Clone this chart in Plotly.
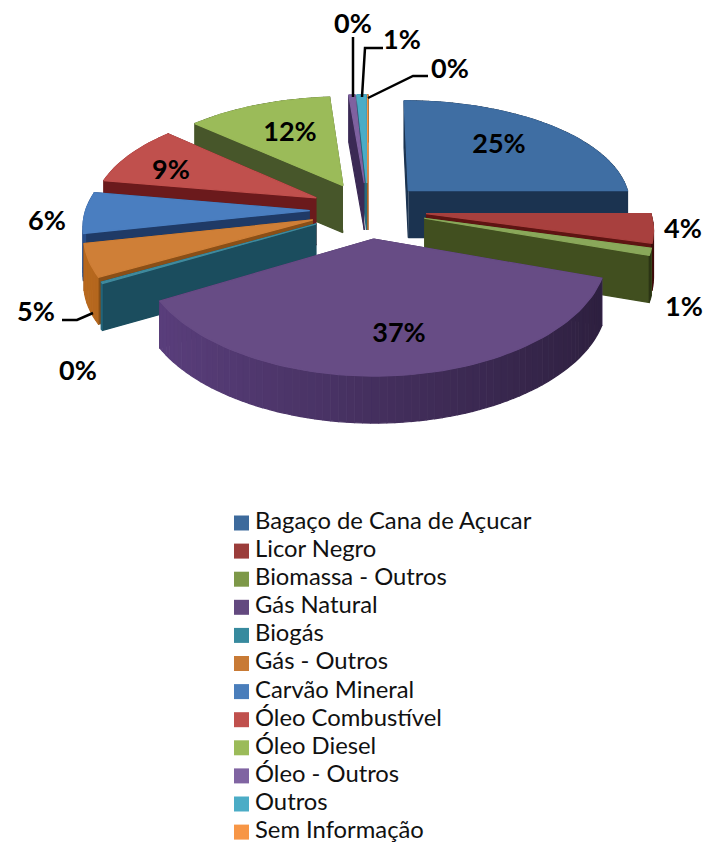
import numpy as np
import plotly.graph_objects as go

# ---- data -----------------------------------------------------------
categories = ["Bagaço de Cana de Açucar", "Licor Negro", "Biomassa - Outros", "Gás Natural",
              "Biogás", "Gás - Outros", "Carvão Mineral", "Óleo Combustível", "Óleo Diesel",
              "Óleo - Outros", "Outros", "Sem Informação"]
shares = [25.0, 4.2, 1.0, 36.6, 0.2, 4.7, 6.0, 9.0, 12.0, 0.5, 0.75, 0.05]
top_colors = ["#3f6ea3", "#a8403e", "#8aa85a", "#674c85", "#3f8a9d", "#cf7f37",
              "#4a7ec0", "#c0504d", "#9bbb59", "#7f62a0", "#4bacc6", "#f79646"]
side_colors = ["#1b3350", "#5e1412", "#414f1f", "#45305f", "#1b4d5e", "#8a4f17",
               "#1f3a66", "#6b1a1c", "#47562a", "#3b2a55", "#246a7d", "#a45a1a"]
legend_colors = ["#3d6a9c", "#9b3d3b", "#7d9848", "#63497f", "#378a9e", "#c87a35",
                 "#4a7ebb", "#c0504d", "#9bbb59", "#8064a2", "#4bacc6", "#f79646"]

# ---- pie projection ---------------------------------------------------
CX, CY, RX, RY = 368.0, 210.0, 224.0, 108.0
PERSP_X, PERSP_Y = 0.12, 0.144
EXPLODE, DEPTH = 0.26, 47.0

# label anchors (pixel space), in slice order plus leader lines
label_pos = [(499, 146), (683, 231), (684, 309), (399, 335), (78, 373), (36, 314),
             (47, 223), (171, 172), (290, 134), (353, 26), (402, 42), (450, 71)]
leaders = [[(353, 37), (353, 97)],
           [(383, 48), (365, 48), (362, 97)],
           [(428, 76), (413, 76), (368, 98)],
           [(62, 320), (77, 320), (93, 313)]]
legend_x, legend_text_x, legend_y0, legend_dy = 241.5, 255.0, 523.0, 28.1


def project(X, Y, drop=0.0):
    X, Y = np.asarray(X, float), np.asarray(Y, float)
    return CX + RX * X / (1 + PERSP_X * Y), CY - RY * Y / (1 + PERSP_Y * Y) + drop


def rgb(h):
    return np.array([int(h[i:i + 2], 16) for i in (1, 3, 5)], float)


def shade(h, f):
    c = np.clip(rgb(h) * f, 0, 255).astype(int)
    return f"rgb({c[0]},{c[1]},{c[2]})"


fig = go.Figure()


def poly(xs, ys, color, name):
    fig.add_trace(go.Scatter(x=list(xs), y=list(ys), mode="lines", fill="toself",
                             fillcolor=color, line=dict(color=color, width=1.2),
                             hoverinfo="skip", showlegend=False, name=name))


def cut_face(t, ex, ey, color, name):
    px, py = project([ex, ex + np.sin(t)], [ey, ey + np.cos(t)])
    poly([px[0], px[1], px[1], px[0]], [py[0], py[1], py[1] + DEPTH, py[0] + DEPTH], color, name)


total = sum(shares)
edges = np.cumsum([0] + shares) / total * 2 * np.pi
slices = []
for i in range(len(shares)):
    t0, t1 = edges[i], edges[i + 1]
    mid = (t0 + t1) / 2
    slices.append((i, t0, t1, EXPLODE * np.sin(mid), EXPLODE * np.cos(mid)))

# painter's order: farthest slice first
for i, t0, t1, ex, ey in sorted(slices, key=lambda s: -s[4]):
    name = categories[i]
    n = max(3, int((t1 - t0) / 0.03))
    th = np.linspace(t0, t1, n)
    px, py = project(ex + np.sin(th), ey + np.cos(th))
    start_visible = np.sin(t0) < 0
    end_visible = np.sin(t1) > 0
    # hidden faces first
    if not start_visible:
        cut_face(t0, ex, ey, side_colors[i], name)
    if not end_visible:
        cut_face(t1, ex, ey, side_colors[i], name)
    wall = [(k, (th[k] + th[k + 1]) / 2) for k in range(n - 1)]
    for vis in (False, True):
        for k, m in wall:
            if (np.cos(m) < 0) == vis:
                f = 1.35 - 0.35 * (np.sin(m) + 1)
                poly([px[k], px[k + 1], px[k + 1], px[k]],
                     [py[k], py[k + 1], py[k + 1] + DEPTH, py[k] + DEPTH],
                     shade(side_colors[i], f), name)
        if not vis:
            if start_visible:
                cut_face(t0, ex, ey, side_colors[i], name)
            if end_visible:
                cut_face(t1, ex, ey, side_colors[i], name)
    # top
    ox, oy = project([ex], [ey])
    poly(np.r_[ox, px, ox], np.r_[oy, py, oy], top_colors[i], name)

# leader lines
for seg in leaders:
    fig.add_trace(go.Scatter(x=[p[0] for p in seg], y=[p[1] for p in seg], mode="lines",
                             line=dict(color="black", width=2.5), hoverinfo="skip",
                             showlegend=False))

# percentage labels
fig.add_trace(go.Scatter(x=[p[0] for p in label_pos], y=[p[1] for p in label_pos], mode="text",
                         text=[f"{round(v / total * 100)}%" for v in shares],
                         textfont=dict(family="Lato", size=27, color="black", weight="bold"),
                         hoverinfo="skip", showlegend=False))

# legend
for i, c in enumerate(categories):
    y = legend_y0 + i * legend_dy
    fig.add_trace(go.Scatter(x=[legend_x], y=[y], mode="markers",
                             marker=dict(symbol="square", size=15, color=legend_colors[i]),
                             hoverinfo="skip", showlegend=False, name=c, cliponaxis=False))
    fig.add_trace(go.Scatter(x=[legend_text_x], y=[y], mode="text",
                             text=[c], textposition="middle right",
                             textfont=dict(family="Lato", size=23.8, color="#111111"),
                             hoverinfo="skip", showlegend=False, name=c, cliponaxis=False))

fig.update_layout(width=707, height=843, margin=dict(l=0, r=0, t=0, b=0),
                  paper_bgcolor="white", plot_bgcolor="white", showlegend=False,
                  xaxis=dict(range=[0, 707], visible=False, fixedrange=True),
                  yaxis=dict(range=[843, 0], visible=False, fixedrange=True))
fig.write_html("out.html", config={"displayModeBar": False},
               post_script="document.body.style.margin='0';document.documentElement.style.overflow='hidden';")
